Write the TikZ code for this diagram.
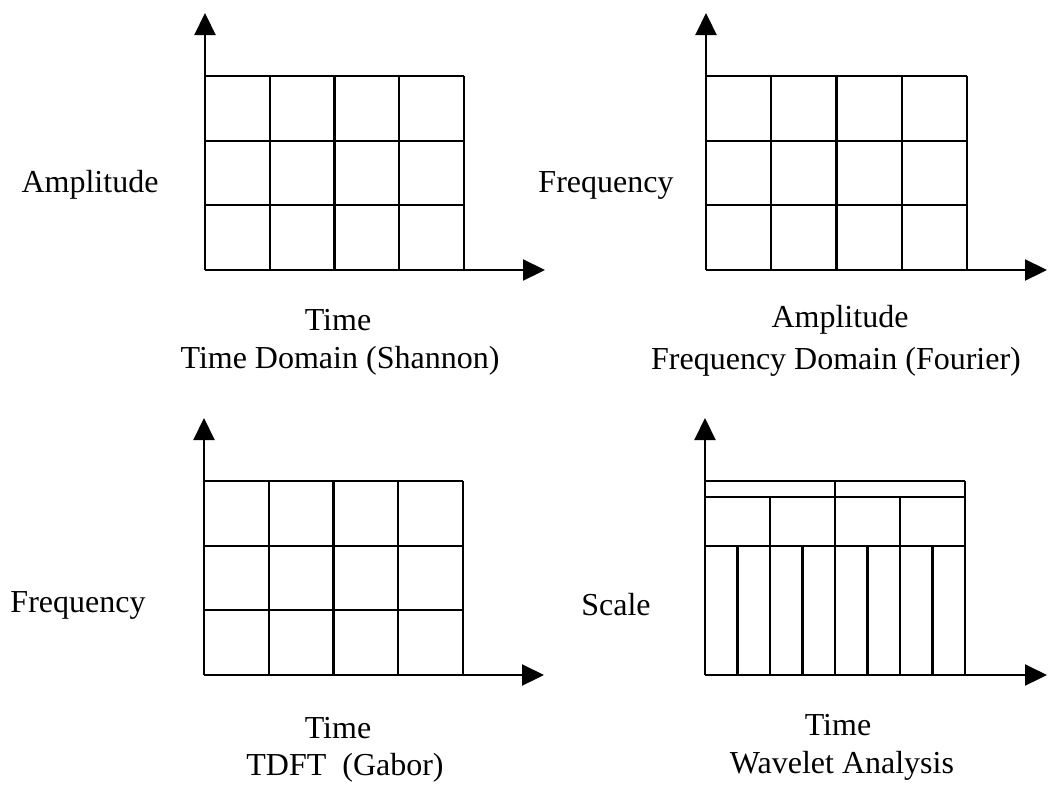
\documentclass[tikz,border=0pt]{standalone}
\usepackage{fontspec}
\setmainfont{Liberation Serif}
\usetikzlibrary{arrows.meta}
\begin{document}
\begin{tikzpicture}[x=1pt,y=-1pt,
  gridline/.style={line width=2.2pt},
  axis/.style={line width=2.2pt,-{Triangle[length=22pt,width=21pt]}},
  lbl/.style={font=\fontsize{32}{38}\selectfont, inner sep=0pt}]
\useasboundingbox[fill=white] (0,0) rectangle (1054,785);

% ---------- Time domain (Shannon) ----------
\begin{scope}[shift={(205,270)}]
  \coordinate (o1) at (0,0);
  \coordinate (y1) at (0,-257);
  \coordinate (x1) at (340,0);
  \foreach \c in {1,2,3,4} \draw[gridline] (\c*64.75,0) -- (\c*64.75,-194);
  \foreach \r in {1,2,3} \draw[gridline] (0,-\r*64.67) -- (259,-\r*64.67);
  \draw[axis] (o1) -- (y1);
  \draw[axis] (o1) -- (x1);
\end{scope}
\node[lbl] (a1) at (90,185) {Amplitude};
\node[lbl] (t1) at (338,320) {Time};
\node[lbl] (c1) at (340,361) {Time Domain (Shannon)};

% ---------- Frequency domain (Fourier) ----------
\begin{scope}[shift={(706,270)}]
  \coordinate (o2) at (0,0);
  \coordinate (y2) at (0,-257);
  \coordinate (x2) at (341,0);
  \foreach \c in {1,2,3,4} \draw[gridline] (\c*65.25,0) -- (\c*65.25,-194);
  \foreach \r in {1,2,3} \draw[gridline] (0,-\r*64.67) -- (261,-\r*64.67);
  \draw[axis] (o2) -- (y2);
  \draw[axis] (o2) -- (x2);
\end{scope}
\node[lbl] (f2) at (606,185) {Frequency};
\node[lbl] (a2) at (840,320) {Amplitude};
\node[lbl] (c2) at (836,362) {Frequency Domain (Fourier)};

% ---------- TDFT (Gabor) ----------
\begin{scope}[shift={(204,675)}]
  \coordinate (o3) at (0,0);
  \coordinate (y3) at (0,-257);
  \coordinate (x3) at (340,0);
  \foreach \c in {1,2,3,4} \draw[gridline] (\c*64.75,0) -- (\c*64.75,-194);
  \foreach \r in {1,2,3} \draw[gridline] (0,-\r*64.67) -- (259,-\r*64.67);
  \draw[axis] (o3) -- (y3);
  \draw[axis] (o3) -- (x3);
\end{scope}
\node[lbl] (f3) at (78,605) {Frequency};
\node[lbl] (t3) at (338,728) {Time};
\node[lbl] (c3) at (345,768) {TDFT\ \ (Gabor)};

% ---------- Wavelet analysis ----------
\begin{scope}[shift={(705,675)}]
  \coordinate (o4) at (0,0);
  \coordinate (y4) at (0,-257);
  \coordinate (x4) at (342,0);
  % fine time resolution at small scales
  \foreach \c in {1,...,8} \draw[gridline] (\c*32.5,0) -- (\c*32.5,-129);
  \draw[gridline] (0,-129) -- (260,-129);
  % medium band
  \foreach \c in {1,...,4} \draw[gridline] (\c*65,-129) -- (\c*65,-178);
  \draw[gridline] (0,-178) -- (260,-178);
  % coarse band
  \foreach \c in {2,4} \draw[gridline] (\c*65,-178) -- (\c*65,-194);
  \draw[gridline] (0,-194) -- (260,-194);
  \draw[axis] (o4) -- (y4);
  \draw[axis] (o4) -- (x4);
\end{scope}
\node[lbl] (s4) at (616,605) {Scale};
\node[lbl] (t4) at (838,725) {Time};
\node[lbl] (c4) at (842,766) {Wavelet Analysis};
\end{tikzpicture}
\end{document}
